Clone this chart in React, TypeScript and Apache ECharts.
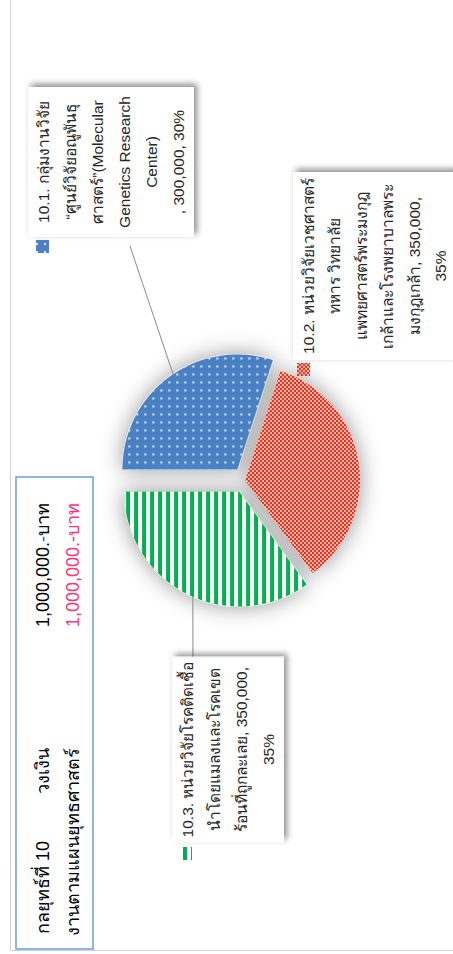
import React, { useEffect, useRef } from 'react';
import * as echarts from 'echarts';

// ---------- data ----------
const categories = [
  '10.1. กลุ่มงานวิจัย “ศูนย์วิจัยอณูพันธุศาสตร์”(Molecular Genetics Research Center)',
  '10.2. หน่วยวิจัยเวชศาสตร์ทหาร วิทยาลัยแพทยศาสตร์พระมงกุฎเกล้าและโรงพยาบาลพระมงกุฎเกล้า',
  '10.3. หน่วยวิจัยโรคติดเชื้อนำโดยแมลงและโรคเขตร้อนที่ถูกละเลย',
];
const values = [300000, 350000, 350000];
const labelNameLines = [
  ['10.1. กลุ่มงานวิจัย', '“ศูนย์วิจัยอณูพันธุ', 'ศาสตร์”(Molecular', 'Genetics Research', 'Center)'],
  ['10.2. หน่วยวิจัยเวชศาสตร์', 'ทหาร วิทยาลัย', 'แพทยศาสตร์พระมงกุฎ', 'เกล้าและโรงพยาบาลพระ', 'มงกุฎเกล้า'],
  ['10.3. หน่วยวิจัยโรคติดเชื้อ', 'นำโดยแมลงและโรคเขต', 'ร้อนที่ถูกละเลย'],
];
const valueOnOwnLine = [true, false, false];
const exploded = [true, false, true];

const strategyLabel = 'กลยุทธ์ที่ 10';
const budgetLabel = 'วงเงิน';
const planLabel = 'งานตามแผนยุทธศาสตร์';
const budgetTotal = 1000000;
const currency = 'บาท';

// ---------- styles / layout ----------
const FONT = "'Liberation Sans', Arial, 'Noto Sans', sans-serif";
const sliceColors = ['#4a80c4', '#e3361f', '#00b050'];
const sliceDecals: any[] = [
  { symbol: 'circle', color: '#ffffff', dashArrayX: [2, 6], dashArrayY: [2, 6], symbolSize: 1 },
  { symbol: 'rect', color: 'rgba(255,255,255,0.62)', dashArrayX: [[2, 2], [0, 2, 2, 0]], dashArrayY: [2, 0], symbolSize: 1, symbolKeepAspect: false },
  { symbol: 'rect', color: '#ffffff', dashArrayX: [1, 0], dashArrayY: [4, 4], symbolSize: 1, symbolKeepAspect: false },
];
const PIE_CENTER = [474, 245];
const PIE_R = 115;
const EXPLODE = 13;
// label boxes (landscape frame): center x, top y, width, line height, leader end
const labelBoxes = [
  { cx: 792, top: 28, w: 150, lh: 27, end: [708, 130] },
  { cx: 688, top: 293, w: 188, lh: 26.5, end: null },
  { cx: 204.5, top: 172, w: 185, lh: 27, end: [292, 193] },
];
const keyPos = [
  [701, 36],
  [578, 297],
  [94, 179],
];

const fmt = (n: number) => n.toLocaleString('en-US');

export default function App() {
  const ref = useRef<HTMLDivElement>(null);

  useEffect(() => {
    const chart = echarts.init(ref.current!, null, { renderer: 'svg', width: 954, height: 453 });
    const total = values.reduce((a, b) => a + b, 0);

    const pieBase = {
      type: 'pie',
      center: PIE_CENTER,
      radius: PIE_R,
      startAngle: 90,
      clockwise: true,
      avoidLabelOverlap: false,
      emphasis: { disabled: true },
    };

    const option: any = {
      animation: false,
      backgroundColor: '#ffffff',
      textStyle: { fontFamily: FONT },
      legend: categories.map((name, i) => ({
        data: [name],
        left: keyPos[i][0],
        top: keyPos[i][1],
        padding: 0,
        itemGap: 0,
        itemWidth: 13,
        itemHeight: 13,
        icon: 'rect',
        selectedMode: false,
        formatter: () => '',
        textStyle: { fontSize: 1, padding: 0 },
      })),
      graphic: [
        {
          type: 'rect', silent: true, z: -10,
          shape: { x: 3.5, y: 10.5, width: 1000, height: 500 },
          style: { fill: 'none', stroke: '#d2d2d2', lineWidth: 1 },
        },
        {
          type: 'rect', silent: true,
          shape: { x: 5, y: 16, width: 472, height: 77 },
          style: { fill: '#ffffff', stroke: '#6c9fd8', lineWidth: 1.5 },
        },
        {
          type: 'text', silent: true, x: 20, y: 42.5,
          style: { text: strategyLabel, fontSize: 18, fontFamily: FONT, fill: '#000', verticalAlign: 'middle' },
        },
        {
          type: 'text', silent: true, x: 160, y: 42.5,
          style: { text: budgetLabel, fontSize: 18, fontFamily: FONT, fill: '#000', verticalAlign: 'middle' },
        },
        {
          type: 'text', silent: true, x: 327, y: 42.5,
          style: {
            text: '{a|' + fmt(budgetTotal) + '.}{b|-}{a|' + currency + '}',
            fontSize: 18, fontFamily: FONT, verticalAlign: 'middle',
            rich: {
              a: { fill: '#000', fontSize: 18, fontFamily: FONT },
              b: { fill: '#2f52e0', fontSize: 18, fontFamily: FONT },
            },
          },
        },
        {
          type: 'text', silent: true, x: 18, y: 72.5,
          style: { text: planLabel, fontSize: 18, fontFamily: FONT, fill: '#000', verticalAlign: 'middle' },
        },
        {
          type: 'text', silent: true, x: 327, y: 72.5,
          style: { text: fmt(total) + '.-' + currency, fontSize: 18, fontFamily: FONT, fill: '#ff3377', verticalAlign: 'middle' },
        },
      ],
      series: [
        // visible, exploded, patterned slices
        {
          ...pieBase,
          name: 'slices',
          z: 3,
          silent: true,
          selectedMode: 'multiple',
          selectedOffset: EXPLODE,
          select: { itemStyle: { borderWidth: 0 } },
          label: { show: false },
          labelLine: { show: false },
          data: categories.map((name, i) => ({
            name,
            value: values[i],
            selected: exploded[i],
            itemStyle: { color: sliceColors[i], decal: sliceDecals[i] },
          })),
        },
        // labels with leader lines (transparent slices underneath)
        {
          ...pieBase,
          name: 'labels',
          z: 2,
          silent: true,
          selectedMode: false,
          itemStyle: { color: 'rgba(0,0,0,0)' },
          label: {
            show: true,
            position: 'outside',
            alignTo: 'none',
            fontFamily: FONT,
            fontSize: 15.5,
            lineHeight: 27,
            color: '#262626',
            backgroundColor: '#ffffff',
            padding: [2, 5, 2, 5],
            overflow: 'none',
            shadowBlur: 6,
            shadowColor: 'rgba(0,0,0,0.45)',
            shadowOffsetX: 3,
            shadowOffsetY: 3,
            formatter: (p: any) => {
              const i = p.dataIndex;
              const base = labelNameLines[i].join('\n');
              return valueOnOwnLine[i]
                ? base + '\n, ' + fmt(p.value) + ', ' + Math.round(p.percent) + '%'
                : base + ', ' + fmt(p.value) + ',\n' + Math.round(p.percent) + '%';
            },
          },
          labelLine: {
            show: true,
            length: 10,
            length2: 10,
            lineStyle: { color: '#8a8a8a', width: 1 },
          },
          labelLayout: (params: any) => {
            const b = labelBoxes[params.dataIndex];
            const res: any = { x: b.cx, y: b.top, align: 'center', verticalAlign: 'top' };
            if (b.end && params.labelLinePoints) {
              const p0 = params.labelLinePoints[0];
              const mid = [(p0[0] + b.end[0]) / 2, (p0[1] + b.end[1]) / 2];
              res.labelLinePoints = [p0, mid, b.end];
            }
            return res;
          },
          data: categories.map((name, i) => ({
            name,
            value: values[i],
            label: { width: labelBoxes[i].w - 10, lineHeight: labelBoxes[i].lh },
            labelLine: { show: !!labelBoxes[i].end },
          })),
        },
        // soft glow behind slices
        {
          ...pieBase,
          name: 'glow',
          z: 1,
          silent: true,
          selectedMode: 'multiple',
          selectedOffset: EXPLODE,
          select: { itemStyle: { borderWidth: 0 } },
          itemStyle: { color: '#ffffff', shadowBlur: 22, shadowColor: 'rgba(0,0,0,0.42)' },
          label: { show: false },
          labelLine: { show: false },
          data: categories.map((name, i) => ({
            name,
            value: values[i],
            selected: exploded[i],
          })),
        },
      ],
    };

    chart.setOption(option);
    return () => chart.dispose();
  }, []);

  return (
    <div
      style={{
        position: 'absolute',
        left: 0,
        top: 0,
        width: 453,
        height: 954,
        overflow: 'hidden',
        background: '#ffffff',
      }}
    >
      <div
        ref={ref}
        style={{
          position: 'absolute',
          left: 0,
          top: 0,
          width: 954,
          height: 453,
          transformOrigin: '0 0',
          transform: 'translate(0px, 954px) rotate(-90deg)',
        }}
      />
    </div>
  );
}
